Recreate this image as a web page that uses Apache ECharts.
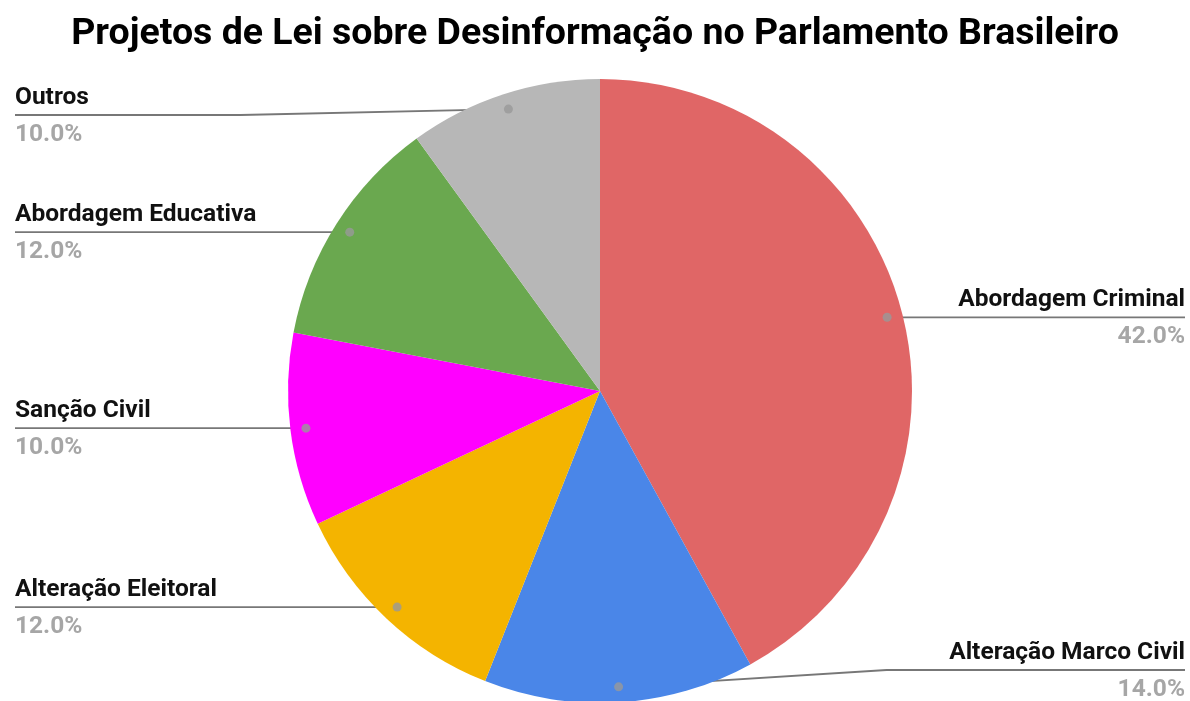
<!DOCTYPE html>
<html>
<head>
<meta charset="utf-8">
<script src="https://cdn.jsdelivr.net/npm/echarts@6/dist/echarts.min.js"></script>
<style>
html,body{margin:0;padding:0;background:#fff;}
#chart{width:1190px;height:701px;}
</style>
</head>
<body>
<div id="chart"></div>
<script>
const titleText = 'Projetos de Lei sobre Desinformação no Parlamento Brasileiro';
const categories = ['Abordagem Criminal', 'Alteração Marco Civil', 'Alteração Eleitoral', 'Sanção Civil', 'Abordagem Educativa', 'Outros'];
const values = [42, 14, 12, 10, 12, 10];
const colors = ['#e06666', '#4a86e8', '#f4b400', '#ff00ff', '#6aa84f', '#b7b7b7'];

const CX = 600, CY = 391, R = 312, DOT = 0.95;

const chart = echarts.init(document.getElementById('chart'), null, {renderer: 'canvas'});
const W = chart.getWidth(), H = chart.getHeight();

const total = values.reduce((a, b) => a + b, 0);
let cum = 0;
const dotData = values.map(v => { const mid = cum + v / 2; cum += v; return [DOT, mid]; });

const pieData = categories.map((c, i) => ({name: c, value: values[i], itemStyle: {color: colors[i]}}));

const option = {
  backgroundColor: '#ffffff',
  animation: false,
  title: {
    text: titleText,
    left: 'center',
    top: 11,
    textStyle: {fontFamily: 'Roboto', fontWeight: 'bold', fontSize: 37.5, color: '#000'}
  },
  polar: {center: [CX, CY], radius: R},
  angleAxis: {type: 'value', min: 0, max: total, startAngle: 90, clockwise: true, show: false},
  radiusAxis: {type: 'value', min: 0, max: 1, show: false},
  series: [
    {
      type: 'pie',
      center: [CX, CY],
      radius: R,
      startAngle: 90,
      clockwise: true,
      z: 2,
      itemStyle: {borderWidth: 0},
      emphasis: {disabled: true},
      label: {
        show: true,
        position: 'outside',
        alignTo: 'edge',
        edgeDistance: 15,
        formatter: p => '{n|' + p.name + '}\n{p|' + p.percent.toFixed(1) + '%}',
        rich: {
          n: {fontFamily: 'Roboto', fontWeight: 'bold', fontSize: 24.5, color: '#111', lineHeight: 37},
          p: {fontFamily: 'Roboto', fontWeight: 'bold', fontSize: 24.5, color: '#a6a6a6', lineHeight: 37}
        }
      },
      labelLine: {show: true, length: 10, length2: 10, smooth: false, lineStyle: {color: '#777777', width: 1.8}},
      labelLayout: function (params) {
        const pts = params.labelLinePoints;
        if (!pts) return {};
        const p0 = pts[0];
        const dx = CX + (p0[0] - CX) * DOT;
        const dy = CY + (p0[1] - CY) * DOT;
        const isLeft = dx < CX;
        const ly = Math.max(115, Math.min(dy, H - 31));
        const ex = isLeft ? 15 : W - 5;
        const kx = isLeft ? dx - 268 : dx + 268;
        return {
          x: ex,
          y: ly + 1,
          align: isLeft ? 'left' : 'right',
          verticalAlign: 'middle',
          labelLinePoints: [[dx, dy], [kx, ly], [ex, ly]]
        };
      },
      data: pieData
    },
    {
      type: 'scatter',
      coordinateSystem: 'polar',
      z: 5,
      symbol: 'circle',
      symbolSize: 9,
      itemStyle: {color: '#999999'},
      silent: true,
      data: dotData
    }
  ]
};
chart.setOption(option);
</script>
</body>
</html>
